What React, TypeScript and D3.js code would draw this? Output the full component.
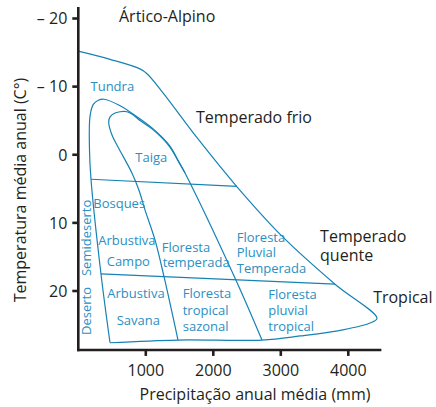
import React from "react";
import * as d3 from "d3";

// ---- data (precipitation in mm, temperature in °C; temperature axis inverted) ----
const precipitationTicks = [1000, 2000, 3000, 4000];
const temperatureTicks = [-20, -10, 0, 10, 20];
const temperatureTickLabels = ["– 20", "– 10", "0", "10", "20"];

const outerBoundary: [number, number][] = [
  [0, -15.2], [470, -14.0], [914, -12.6], [1018, -11.9], [1255, -9.1],
  [1759, -2.5], [2351, 4.7], [3033, 12.1], [3803, 19.0], [4425, 24.0],
  [4321, 24.7], [3921, 25.7], [3284, 26.6], [2721, 27.2], [1477, 27.2], [470, 27.6],
];

const tundraBoundary: [number, number][] = [
  [470, 27.6], [336, 17.5], [188, 3.6], [166, -0.7], [173, -5.6], [222, -7.4],
  [296, -8.0], [381, -8.15], [599, -7.31], [796, -6.09], [1092, -3.94],
  [1344, -1.44], [1492, 1.06], [1581, 2.67], [2321, 18.1], [2721, 27.2],
];

const taigaBoundary: [number, number][] = [
  [1477, 27.2], [1270, 17.9], [1136, 12.5], [988, 8.1], [899, 5.2], [796, 2.7],
  [588, -1.15], [499, -2.9], [450, -4.82], [470, -5.55], [529, -6.06],
  [618, -6.31], [721, -6.31], [810, -5.87], [914, -5.02], [1092, -3.8],
  [1344, -1.3], [1492, 1.15], [1581, 2.67],
];

const coldLine: [number, number][] = [[188, 3.6], [2351, 4.65]];
const warmLine: [number, number][] = [[336, 17.5], [3803, 19.0]];

const climateLabels = [
  { text: "Ártico-Alpino", p: 603, t: -19.5 },
  { text: "Temperado frio", p: 1744, t: -4.67 },
  { text: "Temperado", p: 3582, t: 12.8 },
  { text: "quente", p: 3582, t: 15.6 },
  { text: "Tropical", p: 4368, t: 21.76 },
];

const biomeLabels = [
  { text: "Tundra", p: 181, t: -9.37 },
  { text: "Taiga", p: 844, t: 1.01 },
  { text: "Bosques", p: 222, t: 7.86 },
  { text: "Arbustiva", p: 296, t: 13.25 },
  { text: "Campo", p: 421, t: 16.33 },
  { text: "Arbustiva", p: 430, t: 21.07 },
  { text: "Savana", p: 569, t: 24.99 },
  { text: "Floresta", p: 1236, t: 14.23 },
  { text: "temperada", p: 1250, t: 16.43 },
  { text: "Floresta", p: 1547, t: 21.07 },
  { text: "tropical", p: 1547, t: 23.52 },
  { text: "sazonal", p: 1547, t: 25.8 },
  { text: "Floresta", p: 2347, t: 12.76 },
  { text: "Pluvial", p: 2347, t: 15.05 },
  { text: "Temperada", p: 2347, t: 17.4 },
  { text: "Floresta", p: 2815, t: 21.17 },
  { text: "pluvial", p: 2815, t: 23.52 },
  { text: "tropical", p: 2815, t: 25.8 },
];

const verticalLabels = [
  { text: "Semideserto", p: 181, t: 17.8 },
  { text: "Deserto", p: 181, t: 26.45 },
];

const xTitle = "Precipitação anual média (mm)";
const yTitle = "Temperatura média anual (C°)";

// ---- layout ----
const W = 436;
const H = 407;
const FONT = "'Open Sans', 'Noto Sans', sans-serif";
const INK = "#231f20";
const BLUE_LINE = "#1682b4";
const BLUE_TEXT = "#2a8fc3";

export default function App() {
  const x = d3.scaleLinear().domain([0, 4000]).range([78.3, 348.3]);
  const y = d3.scaleLinear().domain([-20, 20]).range([18.5, 291]);
  const axisX0 = x(0);
  const axisXEnd = x(4490);
  const axisYTop = y(-21.7);
  const axisYBottom = y(28.65);

  const smooth = d3
    .line<[number, number]>()
    .x((d) => x(d[0]))
    .y((d) => y(d[1]))
    .curve(d3.curveCatmullRom.alpha(0.5));
  const straight = d3
    .line<[number, number]>()
    .x((d) => x(d[0]))
    .y((d) => y(d[1]));

  return (
    <svg
      width={W}
      height={H}
      style={{ position: "absolute", left: 0, top: 0, background: "#fff" }}
      fontFamily={FONT}
    >
      {/* biome boundaries */}
      <g fill="none" stroke={BLUE_LINE} strokeWidth={1.2} strokeLinejoin="round">
        <path d={smooth(outerBoundary) || ""} />
        <path d={smooth(tundraBoundary) || ""} />
        <path d={smooth(taigaBoundary) || ""} />
        <path d={straight(coldLine) || ""} />
        <path d={straight(warmLine) || ""} />
      </g>

      {/* axes */}
      <g stroke={INK} strokeWidth={2.6} fill="none">
        <line x1={axisX0} x2={axisX0} y1={axisYTop} y2={axisYBottom + 1.3} />
        <line x1={axisX0 - 1.3} x2={axisXEnd} y1={axisYBottom} y2={axisYBottom} />
        {temperatureTicks.map((t) => (
          <line key={t} x1={axisX0 - 6} x2={axisX0} y1={y(t)} y2={y(t)} />
        ))}
        {precipitationTicks.map((p) => (
          <line key={p} x1={x(p)} x2={x(p)} y1={axisYBottom} y2={axisYBottom + 6} />
        ))}
      </g>
      <g fill={INK} fontSize={16}>
        {temperatureTicks.map((t, i) => (
          <text key={t} x={axisX0 - 11} y={y(t)} dy="0.36em" textAnchor="end">
            {temperatureTickLabels[i]}
          </text>
        ))}
        {precipitationTicks.map((p) => (
          <text key={p} x={x(p)} y={axisYBottom + 26} textAnchor="middle">
            {p}
          </text>
        ))}
        <text x={255} y={400} textAnchor="middle">
          {xTitle}
        </text>
        <text transform={`translate(26,190) rotate(-90)`} textAnchor="middle">
          {yTitle}
        </text>
      </g>

      {/* climate labels */}
      <g fill={INK} fontSize={16}>
        {climateLabels.map((l, i) => (
          <text key={i} x={x(l.p)} y={y(l.t)}>
            {l.text}
          </text>
        ))}
      </g>

      {/* biome labels */}
      <g fill={BLUE_TEXT} fontSize={13}>
        {biomeLabels.map((l, i) => (
          <text key={i} x={x(l.p)} y={y(l.t)}>
            {l.text}
          </text>
        ))}
        {verticalLabels.map((l, i) => (
          <text key={i} transform={`translate(${x(l.p)},${y(l.t)}) rotate(-90)`}>
            {l.text}
          </text>
        ))}
      </g>
    </svg>
  );
}
